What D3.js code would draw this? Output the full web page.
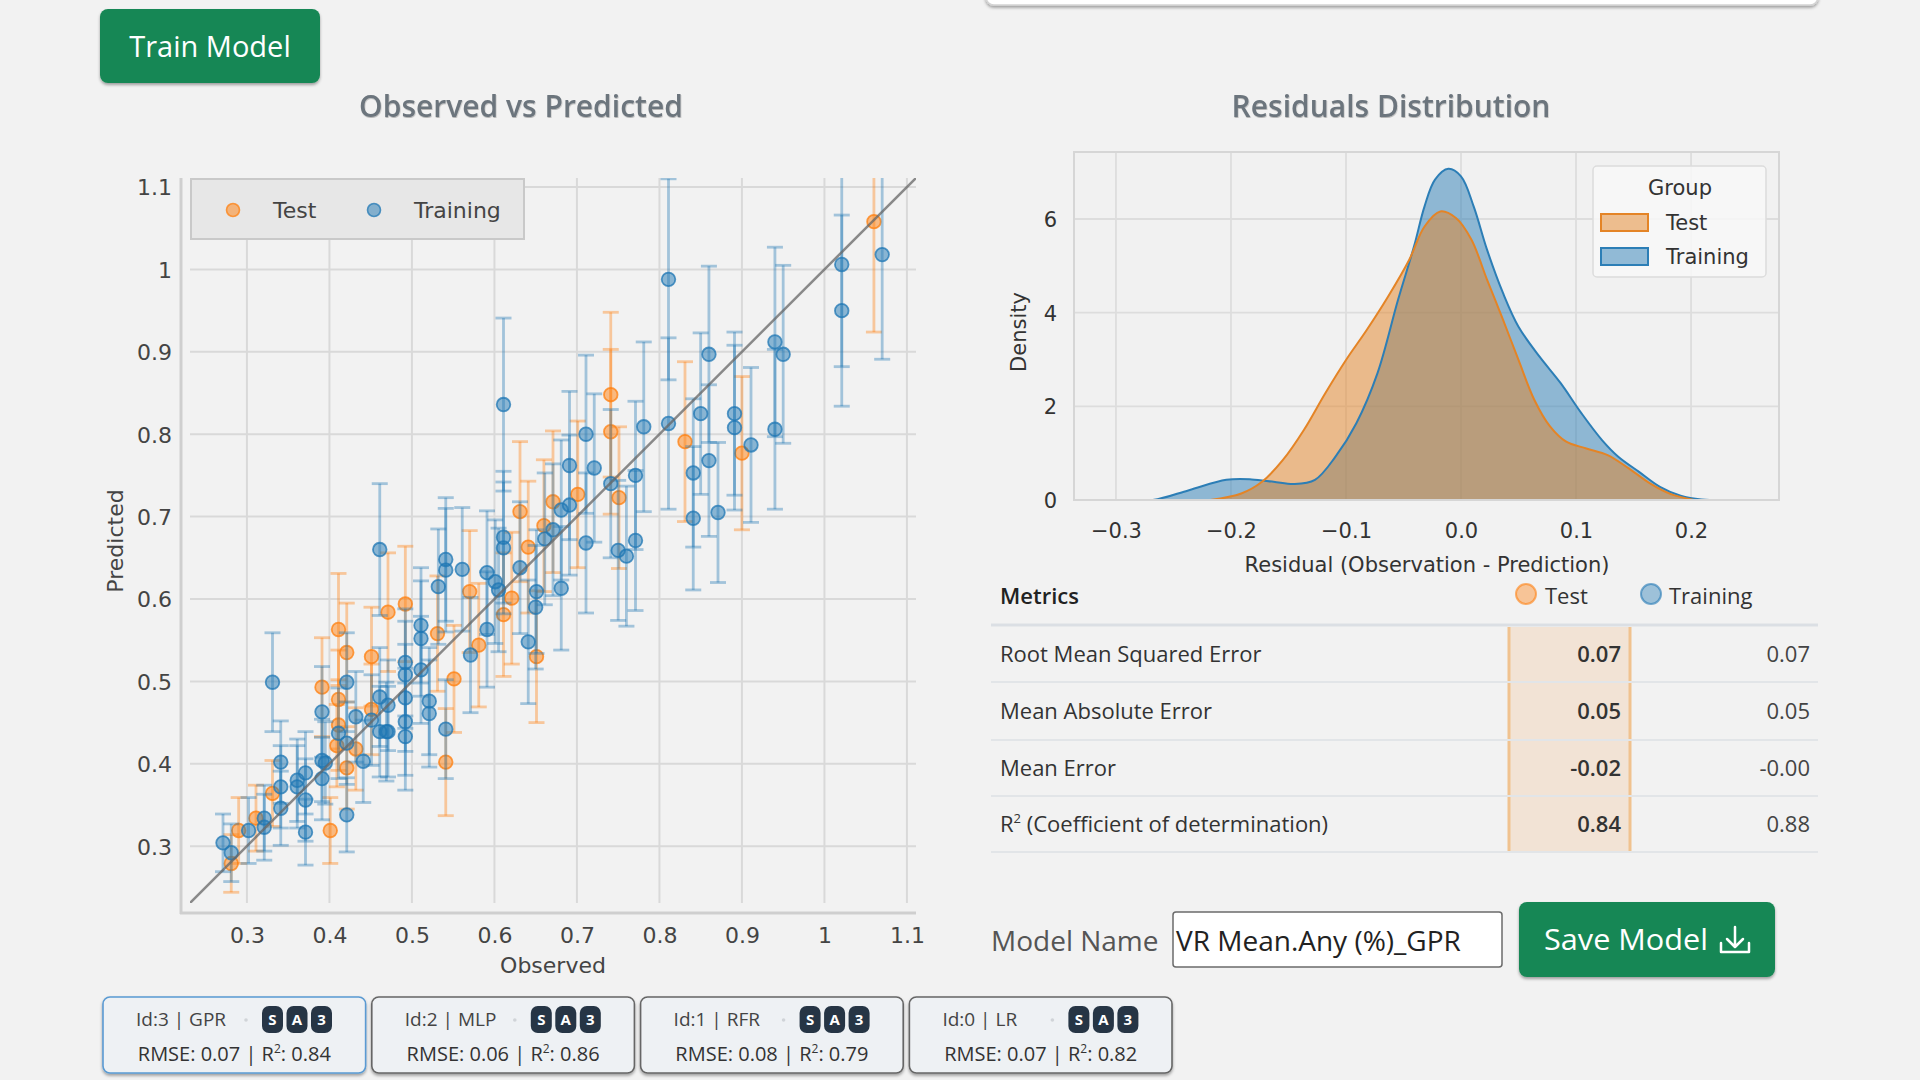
<!DOCTYPE html>
<html>
<head>
<meta charset="utf-8">
<script src="https://cdn.jsdelivr.net/npm/d3@7"></script>
<style>
  html, body { margin: 0; padding: 0; background: #f2f2f2; }
  svg { display: block; }
</style>
</head>
<body>
<svg id="chart" width="1920" height="1080"></svg>
<script>
// ---------------- DATA ----------------
const obsTicks = [0.3, 0.4, 0.5, 0.6, 0.7, 0.8, 0.9, 1.0, 1.1];
const predTicks = [0.3, 0.4, 0.5, 0.6, 0.7, 0.8, 0.9, 1.0, 1.1];

const testObs  = [1.060, 0.741, 0.741, 0.751, 0.831, 0.900, 0.671, 0.701, 0.631, 0.641, 0.660, 0.570, 0.621, 0.471, 0.492, 0.611, 0.531, 0.581, 0.551, 0.541, 0.651, 0.281, 0.290, 0.311, 0.331, 0.391, 0.401, 0.411, 0.411, 0.411, 0.409, 0.421, 0.421, 0.432, 0.451, 0.451];
const testPred = [1.058, 0.848, 0.803, 0.723, 0.791, 0.777, 0.718, 0.727, 0.706, 0.663, 0.689, 0.609, 0.601, 0.584, 0.594, 0.581, 0.558, 0.544, 0.503, 0.402, 0.530, 0.279, 0.319, 0.334, 0.364, 0.493, 0.319, 0.563, 0.478, 0.447, 0.422, 0.535, 0.395, 0.418, 0.530, 0.466];
const testErr  = [0.134, 0.100, 0.100, 0.086, 0.097, 0.093, 0.086, 0.089, 0.085, 0.080, 0.080, 0.074, 0.080, 0.072, 0.070, 0.075, 0.070, 0.075, 0.065, 0.065, 0.080, 0.035, 0.040, 0.040, 0.040, 0.060, 0.040, 0.068, 0.060, 0.055, 0.050, 0.060, 0.050, 0.050, 0.060, 0.055];

const trainObs  = [1.070, 1.021, 1.021, 0.811, 0.811, 0.741, 0.750, 0.760, 0.771, 0.771, 0.781, 0.841, 0.841, 0.850, 0.860, 0.860, 0.871, 0.891, 0.891, 0.911, 0.940, 0.950, 0.940, 0.611, 0.711, 0.691, 0.721, 0.681, 0.691, 0.671, 0.661, 0.711, 0.631, 0.611, 0.611, 0.541, 0.541, 0.561, 0.461, 0.591, 0.601, 0.605, 0.532, 0.651, 0.650, 0.681, 0.511, 0.511, 0.591, 0.571, 0.492, 0.492, 0.511, 0.492, 0.521, 0.521, 0.492, 0.492, 0.469, 0.461, 0.541, 0.641, 0.331, 0.271, 0.281, 0.302, 0.321, 0.321, 0.341, 0.341, 0.341, 0.361, 0.361, 0.371, 0.371, 0.371, 0.391, 0.391, 0.395, 0.391, 0.411, 0.421, 0.421, 0.421, 0.432, 0.441, 0.451, 0.461, 0.471, 0.471];
const trainPred = [1.018, 1.006, 0.950, 0.988, 0.813, 0.740, 0.659, 0.652, 0.750, 0.671, 0.809, 0.753, 0.698, 0.825, 0.897, 0.768, 0.705, 0.825, 0.808, 0.787, 0.912, 0.897, 0.806, 0.836, 0.800, 0.762, 0.759, 0.708, 0.714, 0.684, 0.673, 0.668, 0.638, 0.675, 0.662, 0.648, 0.635, 0.636, 0.660, 0.632, 0.621, 0.611, 0.615, 0.609, 0.590, 0.613, 0.568, 0.552, 0.563, 0.532, 0.523, 0.508, 0.514, 0.480, 0.476, 0.461, 0.451, 0.433, 0.439, 0.481, 0.442, 0.548, 0.499, 0.304, 0.292, 0.319, 0.334, 0.323, 0.402, 0.372, 0.346, 0.380, 0.372, 0.389, 0.356, 0.317, 0.463, 0.404, 0.401, 0.382, 0.437, 0.499, 0.425, 0.338, 0.457, 0.403, 0.453, 0.439, 0.439, 0.471];
const trainErr  = [0.127, 0.124, 0.116, 0.122, 0.104, 0.090, 0.085, 0.085, 0.090, 0.085, 0.103, 0.090, 0.087, 0.098, 0.107, 0.092, 0.085, 0.099, 0.100, 0.094, 0.115, 0.108, 0.097, 0.105, 0.096, 0.090, 0.090, 0.085, 0.085, 0.080, 0.080, 0.085, 0.080, 0.080, 0.080, 0.075, 0.075, 0.075, 0.080, 0.075, 0.075, 0.075, 0.070, 0.075, 0.075, 0.075, 0.070, 0.070, 0.070, 0.070, 0.065, 0.065, 0.065, 0.065, 0.065, 0.065, 0.065, 0.065, 0.060, 0.060, 0.060, 0.075, 0.060, 0.035, 0.035, 0.040, 0.040, 0.040, 0.050, 0.050, 0.045, 0.050, 0.050, 0.050, 0.050, 0.040, 0.055, 0.050, 0.050, 0.050, 0.055, 0.060, 0.050, 0.045, 0.055, 0.050, 0.055, 0.055, 0.055, 0.055];

const residTicks = [-0.3, -0.2, -0.1, 0.0, 0.1, 0.2];
const densityTicks = [0, 2, 4, 6];
const kdeTrainX = [-0.30, -0.268, -0.2365, -0.204, -0.182, -0.163, -0.145, -0.127, -0.109, -0.091, -0.0726, -0.0548, -0.0409, -0.0317, -0.0226, -0.011, 0.0, 0.011, 0.0227, 0.0365, 0.050, 0.0683, 0.0865, 0.1048, 0.1226, 0.1365, 0.1548, 0.173, 0.191, 0.209, 0.24];
const kdeTrainY = [0.0, 0.0, 0.21, 0.43, 0.44, 0.39, 0.34, 0.43, 0.93, 1.64, 2.71, 4.27, 5.41, 6.27, 6.84, 7.07, 6.91, 6.27, 5.34, 4.42, 3.70, 3.06, 2.50, 1.85, 1.28, 0.93, 0.60, 0.28, 0.09, 0.01, 0.0];
const kdeTestX = [-0.218, -0.191, -0.173, -0.155, -0.1365, -0.118, -0.100, -0.082, -0.0635, -0.045, -0.0317, -0.018, -0.0044, 0.009, 0.0227, 0.0365, 0.050, 0.0637, 0.0774, 0.0911, 0.109, 0.1275, 0.1456, 0.164, 0.182, 0.2025];
const kdeTestY = [0.0, 0.14, 0.39, 0.85, 1.50, 2.28, 2.99, 3.63, 4.34, 5.13, 5.84, 6.16, 6.02, 5.56, 4.70, 3.85, 2.99, 2.14, 1.57, 1.25, 1.10, 0.96, 0.68, 0.36, 0.13, 0.0];

const metricNames = ["Root Mean Squared Error", "Mean Absolute Error", "Mean Error", "R2"];
const metricTest = ["0.07", "0.05", "-0.02", "0.84"];
const metricTrain = ["0.07", "0.05", "-0.00", "0.88"];

const modelIds = [3, 2, 1, 0];
const modelNames = ["GPR", "MLP", "RFR", "LR"];
const modelRmse = ["0.07", "0.06", "0.08", "0.07"];
const modelR2 = ["0.84", "0.86", "0.79", "0.82"];
const modelBadges = ["S", "A", "3"];
const modelName = "VR Mean.Any (%)_GPR";

// ---------------- STYLE ----------------
const BLUE = "#1f77b4", ORANGE = "#ff7f0e";
const KDE_BLUE = "#2c7eb6", KDE_ORANGE = "#e48426";
const PLOT_FONT = "'DejaVu Sans', Verdana, sans-serif";
const UI_FONT = "'Open Sans', 'Noto Sans', sans-serif";

const svg = d3.select("#chart");
const defs = svg.append("defs");
const sh = defs.append("filter").attr("id", "shadow").attr("x", "-10%").attr("y", "-10%").attr("width", "120%").attr("height", "140%");
sh.append("feDropShadow").attr("dx", 0).attr("dy", 2).attr("stdDeviation", 1.5).attr("flood-color", "#000").attr("flood-opacity", 0.35);
const ts = defs.append("filter").attr("id", "tshadow");
ts.append("feDropShadow").attr("dx", 0.5).attr("dy", 1).attr("stdDeviation", 0.6).attr("flood-color", "#000").attr("flood-opacity", 0.25);

// top white panel
svg.append("rect").attr("x", 986).attr("y", -20).attr("width", 832).attr("height", 25)
  .attr("rx", 8).attr("fill", "#fff").attr("stroke", "#d4d4d4").attr("stroke-width", 1.5).attr("filter", "url(#shadow)");

// Train Model button
svg.append("rect").attr("x", 100).attr("y", 9).attr("width", 220).attr("height", 74).attr("rx", 8)
  .attr("fill", "#198754").attr("filter", "url(#shadow)");
svg.append("text").attr("x", 210).attr("y", 57).attr("text-anchor", "middle")
  .attr("font-family", UI_FONT).attr("font-size", 29).attr("fill", "#fff").text("Train Model");

// Titles
svg.append("text").attr("x", 521).attr("y", 117).attr("text-anchor", "middle").attr("font-family", UI_FONT)
  .attr("font-size", 30).attr("font-weight", 600).attr("fill", "#6c757d").attr("filter", "url(#tshadow)").text("Observed vs Predicted");
svg.append("text").attr("x", 1391).attr("y", 117).attr("text-anchor", "middle").attr("font-family", UI_FONT)
  .attr("font-size", 30).attr("font-weight", 600).attr("fill", "#6c757d").attr("filter", "url(#tshadow)").text("Residuals Distribution");

// ---------------- SCATTER ----------------
const xS = d3.scaleLinear().domain([0.231, 1.111]).range([190, 916]);
const yS = d3.scaleLinear().domain([0.231, 1.111]).range([903, 178]);
const sc = svg.append("g");
const fmtTick = d => String(+d.toFixed(1));

sc.append("g").selectAll("line").data(obsTicks).join("line")
  .attr("x1", d => xS(d)).attr("x2", d => xS(d)).attr("y1", 178).attr("y2", 903)
  .attr("stroke", "#d9d9d9").attr("stroke-width", 2);
sc.append("g").selectAll("line").data(predTicks).join("line")
  .attr("y1", d => yS(d)).attr("y2", d => yS(d)).attr("x1", 190).attr("x2", 916)
  .attr("stroke", "#d9d9d9").attr("stroke-width", 2);
sc.append("line").attr("x1", 181).attr("x2", 181).attr("y1", 178).attr("y2", 914).attr("stroke", "#cfcfcf").attr("stroke-width", 3);
sc.append("line").attr("x1", 180).attr("x2", 916).attr("y1", 913).attr("y2", 913).attr("stroke", "#cfcfcf").attr("stroke-width", 3);

const xAxis = d3.axisBottom(xS).tickValues(obsTicks).tickFormat(fmtTick).tickSize(0).tickPadding(0);
const gx = sc.append("g").attr("transform", "translate(0,935)").call(xAxis);
gx.select(".domain").remove();
gx.selectAll("text").attr("font-family", PLOT_FONT).attr("font-size", 22).attr("fill", "#444").attr("dy", "0.36em").attr("y", 0);
const yAxis = d3.axisLeft(yS).tickValues(predTicks).tickFormat(fmtTick).tickSize(0).tickPadding(0);
const gy = sc.append("g").attr("transform", "translate(172,0)").call(yAxis);
gy.select(".domain").remove();
gy.selectAll("text").attr("font-family", PLOT_FONT).attr("font-size", 22).attr("fill", "#444").attr("dy", "0.36em").attr("x", 0);

sc.append("text").attr("x", 553).attr("y", 973).attr("text-anchor", "middle").attr("font-family", PLOT_FONT)
  .attr("font-size", 22).attr("fill", "#444").text("Observed");
sc.append("text").attr("transform", "translate(123,541) rotate(-90)").attr("text-anchor", "middle").attr("font-family", PLOT_FONT)
  .attr("font-size", 22).attr("fill", "#444").text("Predicted");

defs.append("clipPath").attr("id", "plotclip").append("rect").attr("x", 190).attr("y", 178).attr("width", 726).attr("height", 725);
const marks = sc.append("g").attr("clip-path", "url(#plotclip)");

function drawSeries(obs, pred, err, color) {
  const data = obs.map((o, i) => ({o, p: pred[i], e: err[i]}));
  const g = marks.append("g");
  const eb = g.append("g").attr("stroke", color).attr("stroke-opacity", 0.38).attr("stroke-width", 2.8).attr("fill", "none");
  eb.selectAll("line.v").data(data).join("line").attr("class", "v")
    .attr("x1", d => xS(d.o)).attr("x2", d => xS(d.o)).attr("y1", d => yS(d.p - d.e)).attr("y2", d => yS(d.p + d.e));
  eb.selectAll("line.t").data(data).join("line").attr("class", "t")
    .attr("x1", d => xS(d.o) - 8).attr("x2", d => xS(d.o) + 8).attr("y1", d => yS(d.p + d.e)).attr("y2", d => yS(d.p + d.e));
  eb.selectAll("line.b").data(data).join("line").attr("class", "b")
    .attr("x1", d => xS(d.o) - 8).attr("x2", d => xS(d.o) + 8).attr("y1", d => yS(d.p - d.e)).attr("y2", d => yS(d.p - d.e));
  g.selectAll("circle").data(data).join("circle")
    .attr("cx", d => xS(d.o)).attr("cy", d => yS(d.p)).attr("r", 6.8)
    .attr("fill", color).attr("fill-opacity", 0.5).attr("stroke", color).attr("stroke-opacity", 0.75).attr("stroke-width", 1.8);
}
drawSeries(testObs, testPred, testErr, ORANGE);
drawSeries(trainObs, trainPred, trainErr, BLUE);
marks.append("line").attr("x1", xS(0.231)).attr("y1", yS(0.231)).attr("x2", xS(1.111)).attr("y2", yS(1.111))
  .attr("stroke", "#666").attr("stroke-opacity", 0.75).attr("stroke-width", 2.5);

// scatter legend
sc.append("rect").attr("x", 191).attr("y", 179).attr("width", 333).attr("height", 60)
  .attr("fill", "#e7e7e7").attr("stroke", "#c9c9c9").attr("stroke-width", 2);
[["Test", ORANGE, 233, 273], ["Training", BLUE, 374, 414]].forEach(([lbl, c, cx, tx]) => {
  sc.append("circle").attr("cx", cx).attr("cy", 210).attr("r", 6.5).attr("fill", c).attr("fill-opacity", 0.5)
    .attr("stroke", c).attr("stroke-opacity", 0.75).attr("stroke-width", 1.6);
  sc.append("text").attr("x", tx).attr("y", 218).attr("font-family", PLOT_FONT).attr("font-size", 22).attr("fill", "#444").text(lbl);
});

// ---------------- KDE ----------------
const kx = d3.scaleLinear().domain([-0.3365, 0.2765]).range([1074, 1779]);
const ky = d3.scaleLinear().domain([0, 7.43]).range([500, 152]);
const kg = svg.append("g");
kg.append("rect").attr("x", 1074).attr("y", 152).attr("width", 705).attr("height", 348).attr("fill", "#f1f1f1");
kg.append("g").selectAll("line").data(residTicks).join("line")
  .attr("x1", d => kx(d)).attr("x2", d => kx(d)).attr("y1", 152).attr("y2", 500).attr("stroke", "#dddddd").attr("stroke-width", 1.8);
kg.append("g").selectAll("line").data(densityTicks).join("line")
  .attr("y1", d => ky(d)).attr("y2", d => ky(d)).attr("x1", 1074).attr("x2", 1779).attr("stroke", "#dddddd").attr("stroke-width", 1.8);

defs.append("clipPath").attr("id", "kdeclip").append("rect").attr("x", 1074).attr("y", 152).attr("width", 705).attr("height", 348);
const kmarks = kg.append("g").attr("clip-path", "url(#kdeclip)");
const area = d3.area().x(d => kx(d[0])).y0(ky(0)).y1(d => ky(d[1])).curve(d3.curveCatmullRom.alpha(0.5));
const line = d3.line().x(d => kx(d[0])).y(d => ky(d[1])).curve(d3.curveCatmullRom.alpha(0.5));
const trainPts = kdeTrainX.map((x, i) => [x, kdeTrainY[i]]);
const testPts = kdeTestX.map((x, i) => [x, kdeTestY[i]]);
kmarks.append("path").attr("d", area(trainPts)).attr("fill", KDE_BLUE).attr("fill-opacity", 0.5);
kmarks.append("path").attr("d", area(testPts)).attr("fill", KDE_ORANGE).attr("fill-opacity", 0.5);
kmarks.append("path").attr("d", line(trainPts)).attr("fill", "none").attr("stroke", KDE_BLUE).attr("stroke-width", 2);
kmarks.append("path").attr("d", line(testPts)).attr("fill", "none").attr("stroke", KDE_ORANGE).attr("stroke-width", 2);

kg.append("rect").attr("x", 1074).attr("y", 152).attr("width", 705).attr("height", 348)
  .attr("fill", "none").attr("stroke", "#d6d6d6").attr("stroke-width", 2);

const fmtMinus = d => d3.format(".1f")(d).replace("-", "\u2212");
const kxAxis = d3.axisBottom(kx).tickValues(residTicks).tickFormat(fmtMinus).tickSize(0).tickPadding(0);
const kgx = kg.append("g").attr("transform", "translate(0,530)").call(kxAxis);
kgx.select(".domain").remove();
kgx.selectAll("text").attr("font-family", PLOT_FONT).attr("font-size", 21).attr("fill", "#333").attr("dy", "0.36em").attr("y", 0);
const kyAxis = d3.axisLeft(ky).tickValues(densityTicks).tickFormat(d3.format("d")).tickSize(0).tickPadding(0);
const kgy = kg.append("g").attr("transform", "translate(1057,0)").call(kyAxis);
kgy.select(".domain").remove();
kgy.selectAll("text").attr("font-family", PLOT_FONT).attr("font-size", 21).attr("fill", "#333").attr("dy", "0.36em").attr("x", 0);
kg.append("text").attr("x", 1427).attr("y", 572).attr("text-anchor", "middle").attr("font-family", PLOT_FONT)
  .attr("font-size", 21).attr("fill", "#333").text("Residual (Observation - Prediction)");
kg.append("text").attr("transform", "translate(1026,332) rotate(-90)").attr("text-anchor", "middle").attr("font-family", PLOT_FONT)
  .attr("font-size", 21).attr("fill", "#333").text("Density");

// KDE legend
kg.append("rect").attr("x", 1593).attr("y", 166).attr("width", 173).attr("height", 111).attr("rx", 4)
  .attr("fill", "#f8f8f8").attr("fill-opacity", 0.85).attr("stroke", "#dcdcdc").attr("stroke-width", 1.5);
kg.append("text").attr("x", 1680).attr("y", 195).attr("text-anchor", "middle").attr("font-family", PLOT_FONT)
  .attr("font-size", 21).attr("fill", "#333").text("Group");
[["Test", KDE_ORANGE, 214], ["Training", KDE_BLUE, 248]].forEach(([lbl, c, y]) => {
  kg.append("rect").attr("x", 1601).attr("y", y).attr("width", 47).attr("height", 17)
    .attr("fill", c).attr("fill-opacity", 0.5).attr("stroke", c).attr("stroke-width", 2);
  kg.append("text").attr("x", 1666).attr("y", y + 16).attr("font-family", PLOT_FONT).attr("font-size", 21).attr("fill", "#333").text(lbl);
});

// ---------------- METRICS TABLE ----------------
const tb = svg.append("g").attr("font-family", UI_FONT);
tb.append("rect").attr("x", 1508).attr("y", 627).attr("width", 123).attr("height", 225).attr("fill", "#f2e3d5");
tb.append("line").attr("x1", 1509).attr("x2", 1509).attr("y1", 627).attr("y2", 852).attr("stroke", "#f0c28f").attr("stroke-width", 3);
tb.append("line").attr("x1", 1630).attr("x2", 1630).attr("y1", 627).attr("y2", 852).attr("stroke", "#f0c28f").attr("stroke-width", 3);
tb.append("text").attr("x", 1000).attr("y", 604).attr("font-size", 22).attr("font-weight", 600).attr("fill", "#222").text("Metrics");
[["Test", ORANGE, 1526, 1545], ["Training", BLUE, 1651, 1669]].forEach(([lbl, c, cx, tx]) => {
  tb.append("circle").attr("cx", cx).attr("cy", 594).attr("r", 10).attr("fill", c).attr("fill-opacity", 0.4)
    .attr("stroke", c).attr("stroke-opacity", 0.6).attr("stroke-width", 2);
  tb.append("text").attr("x", tx).attr("y", 604).attr("font-size", 22).attr("fill", "#333").text(lbl);
});
tb.append("line").attr("x1", 991).attr("x2", 1818).attr("y1", 625).attr("y2", 625).attr("stroke", "#dbdfe4").attr("stroke-width", 3);
const rowY = [625, 682, 740, 796, 852];
tb.selectAll("line.sep").data(rowY.slice(1)).join("line").attr("class", "sep")
  .attr("x1", 991).attr("x2", 1818).attr("y1", d => d).attr("y2", d => d).attr("stroke", "#e2e5e8").attr("stroke-width", 2);
metricNames.forEach((m, i) => {
  const cy = (rowY[i] + rowY[i + 1]) / 2 + 8;
  const t = tb.append("text").attr("x", 1000).attr("y", cy).attr("font-size", 22).attr("fill", "#333");
  if (m === "R2") {
    t.append("tspan").text("R");
    t.append("tspan").attr("font-size", 13).attr("dy", -9).text("2");
    t.append("tspan").attr("dy", 9).text(" (Coefficient of determination)");
  } else t.text(m);
  tb.append("text").attr("x", 1621).attr("y", cy).attr("text-anchor", "end").attr("font-size", 22).attr("font-weight", 600).attr("fill", "#333").text(metricTest[i]);
  tb.append("text").attr("x", 1810).attr("y", cy).attr("text-anchor", "end").attr("font-size", 22).attr("fill", "#444").text(metricTrain[i]);
});

// ---------------- MODEL NAME + SAVE ----------------
svg.append("text").attr("x", 991).attr("y", 951).attr("font-family", UI_FONT).attr("font-size", 28).attr("fill", "#555").text("Model Name");
svg.append("rect").attr("x", 1173).attr("y", 912).attr("width", 329).attr("height", 55).attr("rx", 3)
  .attr("fill", "#fff").attr("stroke", "#6b6b6b").attr("stroke-width", 1.5);
svg.append("text").attr("x", 1176).attr("y", 951).attr("font-family", UI_FONT).attr("font-size", 28).attr("fill", "#222").text(modelName);
svg.append("rect").attr("x", 1519).attr("y", 902).attr("width", 256).attr("height", 75).attr("rx", 8)
  .attr("fill", "#198754").attr("filter", "url(#shadow)");
svg.append("text").attr("x", 1544).attr("y", 950).attr("font-family", UI_FONT).attr("font-size", 29).attr("fill", "#fff")
  .attr("textLength", 164).attr("lengthAdjust", "spacingAndGlyphs").text("Save Model");
svg.append("path").attr("d", "M1735,927 V946 M1727,939 L1735,947 L1743,939 M1721,943 V952 H1749 V943")
  .attr("fill", "none").attr("stroke", "#fff").attr("stroke-width", 2.5).attr("stroke-linecap", "round").attr("stroke-linejoin", "round");

// ---------------- MODEL CARDS ----------------
const cardX = d3.scaleBand().domain(modelIds).range([103, 1172]).paddingInner(0.023);
modelIds.forEach((id, i) => {
  const x0 = cardX(id), w = cardX.bandwidth();
  const g = svg.append("g").attr("font-family", UI_FONT);
  g.append("rect").attr("x", x0).attr("y", 997).attr("width", w).attr("height", 76).attr("rx", 7)
    .attr("fill", "#eef1f4").attr("stroke", i === 0 ? "#5a9ad2" : "#666").attr("stroke-width", 1.6)
    .attr("filter", "url(#shadow)");
  g.append("text").attr("x", x0 + 33).attr("y", 1026).attr("font-size", 19).attr("fill", "#444")
    .text(`Id:${id} | ${modelNames[i]}`);
  g.append("circle").attr("cx", x0 + 143).attr("cy", 1020).attr("r", 1.8).attr("fill", "#d0d4d8");
  modelBadges.forEach((b, j) => {
    const bx = x0 + 159 + j * 24.5;
    g.append("rect").attr("x", bx).attr("y", 1006).attr("width", 21).attr("height", 27).attr("rx", 7).attr("fill", "#263545");
    g.append("text").attr("x", bx + 10.5).attr("y", 1025).attr("text-anchor", "middle").attr("font-size", 15)
      .attr("font-weight", 700).attr("fill", "#fff").text(b);
  });
  const t2 = g.append("text").attr("x", x0 + w / 2).attr("y", 1061).attr("text-anchor", "middle").attr("font-size", 20).attr("fill", "#333");
  t2.append("tspan").text(`RMSE: ${modelRmse[i]} | R`);
  t2.append("tspan").attr("font-size", 12).attr("dy", -8).text("2");
  t2.append("tspan").attr("dy", 8).text(`: ${modelR2[i]}`);
});
</script>
</body>
</html>
